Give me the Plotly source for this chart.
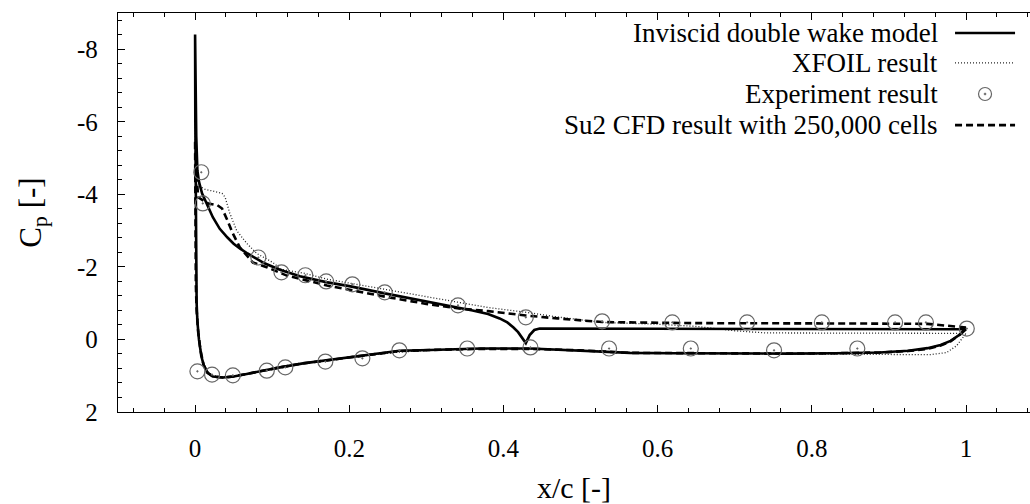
import plotly.graph_objects as go

# ---- Inviscid double wake model (closed loop: TE upper -> LE -> TE lower)
inv_x = [1.000, 0.950, 0.850, 0.750, 0.650, 0.550, 0.460, 0.447, 0.440, 0.434, 0.429,
         0.424, 0.419, 0.413, 0.405, 0.395, 0.380, 0.360, 0.340, 0.300, 0.246, 0.200,
         0.170, 0.136, 0.110, 0.090, 0.080, 0.068, 0.058, 0.050, 0.042, 0.032, 0.023,
         0.015, 0.009, 0.005, 0.003, 0.0015, 0.0008, 0.000,
         0.0003, 0.0006, 0.0012, 0.002, 0.003, 0.005, 0.008, 0.011, 0.016, 0.023,
         0.036, 0.050, 0.067, 0.090, 0.110, 0.140, 0.175, 0.210, 0.240, 0.265, 0.305,
         0.370, 0.435, 0.500, 0.564, 0.620, 0.700, 0.770, 0.830, 0.888, 0.925, 0.950,
         0.967, 0.980, 0.993, 1.000]
inv_cp = [-0.28, -0.28, -0.28, -0.28, -0.28, -0.28, -0.29, -0.30, -0.26, -0.12, 0.10,
          -0.06, -0.20, -0.33, -0.47, -0.58, -0.70, -0.80, -0.88, -1.06, -1.27, -1.47,
          -1.58, -1.74, -1.92, -2.10, -2.22, -2.37, -2.51, -2.64, -2.81, -3.05, -3.37,
          -3.72, -4.03, -4.35, -4.66, -5.60, -6.80, -8.41,
          -6.00, -4.00, -2.00, -1.00, -0.50, 0.00, 0.45, 0.70, 0.91, 1.02,
          1.05, 1.02, 0.95, 0.85, 0.77, 0.66, 0.56, 0.47, 0.39, 0.31, 0.29,
          0.25, 0.25, 0.30, 0.37, 0.38, 0.39, 0.39, 0.38, 0.36, 0.31, 0.24,
          0.15, 0.04, -0.15, -0.28]

# ---- XFOIL result
xf_x = [1.000, 0.996, 0.963, 0.900, 0.800, 0.740, 0.700, 0.650, 0.600, 0.528, 0.470,
        0.429, 0.380, 0.341, 0.300, 0.246, 0.204, 0.171, 0.143, 0.112, 0.101, 0.080,
        0.067, 0.054, 0.045, 0.039, 0.035, 0.025, 0.013, 0.004, 0.002, 0.000,
        0.0005, 0.001, 0.002, 0.004, 0.006, 0.009, 0.013, 0.020, 0.035, 0.050, 0.067,
        0.090, 0.110, 0.140, 0.175, 0.210, 0.240, 0.270, 0.305, 0.370, 0.435, 0.500,
        0.564, 0.620, 0.700, 0.770, 0.830, 0.900, 0.953, 0.975, 0.988, 0.995, 1.000]
xf_cp = [-0.15, -0.17, -0.17, -0.17, -0.17, -0.18, -0.24, -0.36, -0.42, -0.47, -0.62,
         -0.75, -0.88, -1.03, -1.17, -1.38, -1.54, -1.66, -1.82, -1.93, -2.12, -2.37,
         -2.65, -3.00, -3.48, -3.92, -4.03, -4.08, -4.14, -4.25, -5.00, -6.30,
         -4.00, -2.00, -1.00, -0.30, 0.10, 0.50, 0.80, 0.98, 1.04, 1.01, 0.94,
         0.85, 0.77, 0.66, 0.56, 0.47, 0.40, 0.34, 0.30, 0.26, 0.26, 0.30,
         0.37, 0.38, 0.39, 0.39, 0.39, 0.40, 0.42, 0.36, 0.17, -0.03, -0.15]

# ---- Su2 CFD result with 250,000 cells
cfd_x = [1.000, 0.970, 0.950, 0.850, 0.750, 0.650, 0.564, 0.528, 0.470, 0.429, 0.380,
         0.340, 0.300, 0.246, 0.171, 0.119, 0.093, 0.075, 0.058, 0.049, 0.042,
         0.035, 0.029, 0.017, 0.004, 0.002, 0.000,
         0.0005, 0.001, 0.002, 0.004, 0.007, 0.011, 0.016, 0.023, 0.036, 0.050, 0.067,
         0.090, 0.110, 0.140, 0.175, 0.210, 0.240, 0.265, 0.305, 0.370, 0.435, 0.500,
         0.564, 0.620, 0.700, 0.770, 0.830, 0.888, 0.925, 0.950, 0.967, 0.980, 0.993, 1.000]
cfd_cp = [-0.33, -0.40, -0.43, -0.44, -0.44, -0.45, -0.47, -0.48, -0.58, -0.66, -0.78,
          -0.86, -0.98, -1.18, -1.49, -1.76, -1.99, -2.12, -2.54, -2.92, -3.28,
          -3.61, -3.70, -3.75, -3.92, -4.50, -5.50,
          -3.00, -1.50, -0.80, -0.20, 0.30, 0.70, 0.92, 1.02, 1.05, 1.02, 0.95,
          0.85, 0.77, 0.66, 0.56, 0.47, 0.39, 0.32, 0.29, 0.26, 0.26, 0.30,
          0.37, 0.38, 0.39, 0.39, 0.38, 0.36, 0.32, 0.26, 0.17, 0.05, -0.15, -0.33]

# ---- Experiment result
exp_x = [0.008, 0.010, 0.082, 0.112, 0.143, 0.170, 0.204, 0.246, 0.341, 0.429,
         0.528, 0.619, 0.716, 0.813, 0.908, 0.948, 1.001,
         0.003, 0.022, 0.049, 0.093, 0.117, 0.169, 0.217, 0.265, 0.353, 0.435,
         0.537, 0.643, 0.751, 0.859]
exp_cp = [-4.61, -3.75, -2.26, -1.85, -1.77, -1.60, -1.52, -1.30, -0.94, -0.61,
          -0.50, -0.47, -0.47, -0.47, -0.47, -0.47, -0.30,
          0.88, 0.97, 0.99, 0.86, 0.77, 0.61, 0.52, 0.30, 0.25, 0.22,
          0.25, 0.25, 0.30, 0.25]

# ---- Axis ticks
x_ticks = [0, 0.2, 0.4, 0.6, 0.8, 1]
x_tick_text = ["0", "0.2", "0.4", "0.6", "0.8", "1"]
y_ticks = [-8, -6, -4, -2, 0, 2]
y_tick_text = ["-8", "-6", "-4", "-2", "0", "2"]

legend_labels = ["Inviscid double wake model", "XFOIL result",
                 "Experiment result", "Su2 CFD result with 250,000 cells"]

FONT = "Liberation Serif"
INK = "black"
GREY = "#666"

fig = go.Figure()
fig.add_trace(go.Scatter(x=xf_x, y=xf_cp, mode="lines",
                         line=dict(color="#222", width=1.3, dash="1px,2px")))
fig.add_trace(go.Scatter(x=cfd_x, y=cfd_cp, mode="lines",
                         line=dict(color=INK, width=2.6, dash="7px,4px")))
fig.add_trace(go.Scatter(x=inv_x, y=inv_cp, mode="lines",
                         line=dict(color=INK, width=2.6)))
fig.add_trace(go.Scatter(x=exp_x, y=exp_cp, mode="markers",
                         marker=dict(symbol="circle-open-dot", size=15,
                                     color=GREY, line=dict(width=1.2, color=GREY))))

# Legend: right-aligned labels with the line sample to their right
row_y = [0.950, 0.875, 0.797, 0.719]
for lab, yy in zip(legend_labels, row_y):
    fig.add_annotation(xref="paper", yref="paper", x=0.9013, y=yy, text=lab,
                       showarrow=False, xanchor="right", yanchor="middle",
                       font=dict(family=FONT, size=27, color=INK))
sx0, sx1 = 0.9178, 0.9836
fig.add_shape(type="line", xref="paper", yref="paper", x0=sx0, x1=sx1,
              y0=row_y[0], y1=row_y[0], line=dict(color=INK, width=2.6))
fig.add_shape(type="line", xref="paper", yref="paper", x0=sx0, x1=sx1,
              y0=row_y[1], y1=row_y[1], line=dict(color="#222", width=1.3, dash="1px,2px"))
fig.add_shape(type="line", xref="paper", yref="paper", x0=sx0, x1=sx1,
              y0=row_y[3], y1=row_y[3], line=dict(color=INK, width=2.6, dash="7px,4px"))
cx = (sx0 + sx1) / 2
fig.add_shape(type="circle", xref="paper", yref="paper", xsizemode="pixel", ysizemode="pixel",
              xanchor=cx, yanchor=row_y[2], x0=-6.5, x1=6.5, y0=-6.5, y1=6.5,
              line=dict(color=GREY, width=1.2))
fig.add_shape(type="circle", xref="paper", yref="paper", xsizemode="pixel", ysizemode="pixel",
              xanchor=cx, yanchor=row_y[2], x0=-1, x1=1, y0=-1, y1=1,
              line=dict(color=GREY, width=0.6), fillcolor=GREY)

fig.update_xaxes(range=[-0.1, 1.083], tickvals=x_ticks, ticktext=x_tick_text,
                 ticks="inside", ticklen=7, tickwidth=1, tickcolor=INK,
                 minor=dict(tick0=0, dtick=0.04, ticks="inside", ticklen=4, tickcolor=INK),
                 showline=True, linecolor=INK, linewidth=1.4, mirror="ticks",
                 showgrid=False, zeroline=False, ticklabelstandoff=14,
                 tickfont=dict(family=FONT, size=25, color=INK),
                 title=dict(text="x/c [-]", font=dict(family=FONT, size=30, color=INK), standoff=16))
fig.update_yaxes(range=[2, -9], tickvals=y_ticks, ticktext=y_tick_text,
                 ticks="inside", ticklen=7, tickwidth=1, tickcolor=INK,
                 minor=dict(tick0=0, dtick=0.4, ticks="inside", ticklen=4, tickcolor=INK),
                 showline=True, linecolor=INK, linewidth=1.4, mirror=False,
                 showgrid=False, zeroline=False, ticklabelstandoff=14,
                 tickfont=dict(family=FONT, size=25, color=INK),
                 title=dict(text="C<sub>p</sub> [-]", font=dict(family=FONT, size=31, color=INK),
                            standoff=26))
fig.update_layout(width=1030, height=504, showlegend=False,
                  margin=dict(l=118, r=0, t=13, b=92),
                  paper_bgcolor="white", plot_bgcolor="white")
fig.write_html("out.html")
